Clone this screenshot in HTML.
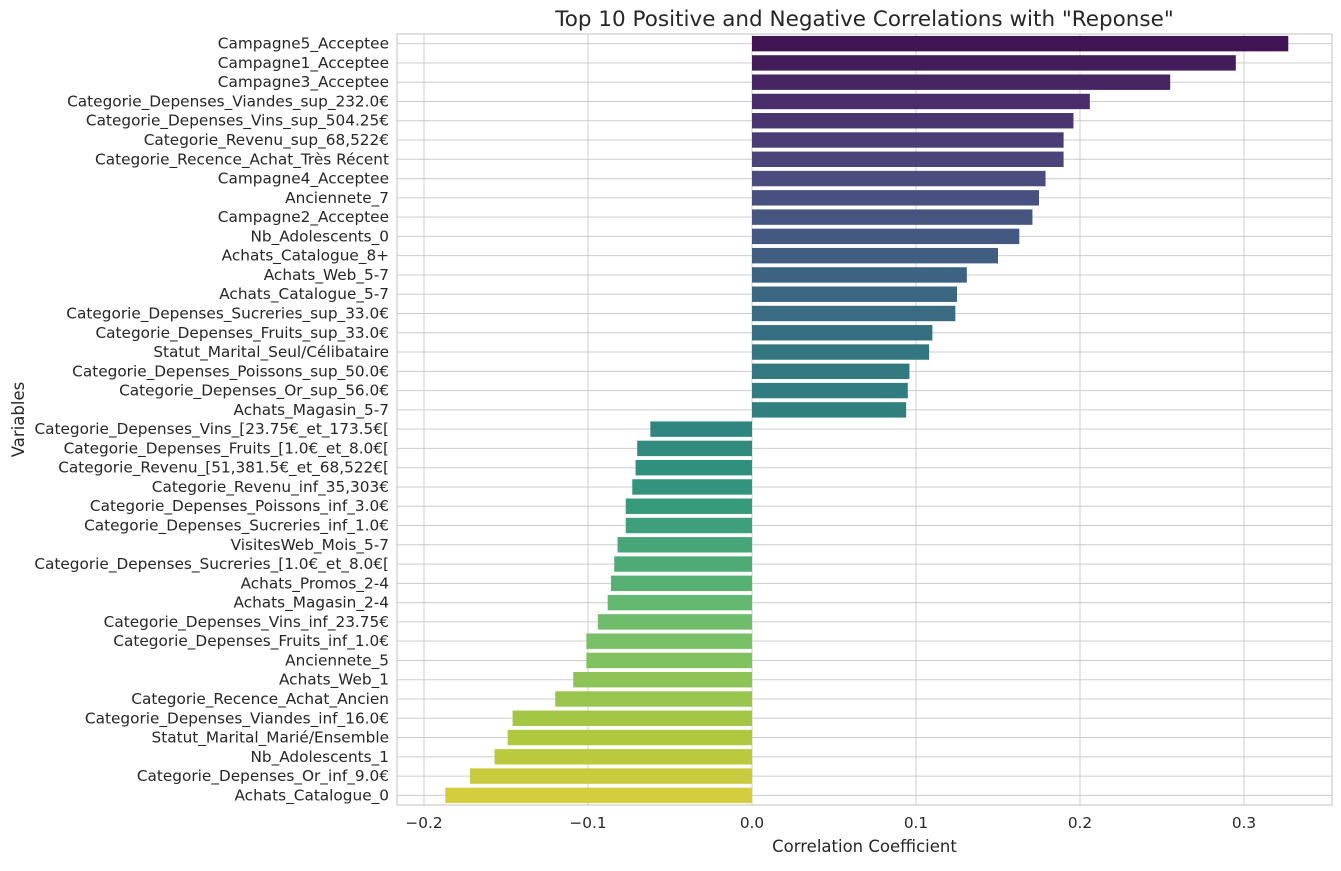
<!DOCTYPE html>
<html><head><meta charset="utf-8"><style>
body{margin:0;background:#fff;font-family:"Liberation Sans","DejaVu Sans",sans-serif;}
svg text{font-family:"DejaVu Sans","Liberation Sans",sans-serif;fill:#262626;}
</style></head><body>
<svg id="chart" width="1341" height="866"></svg>
<script>
const categories=["Campagne5_Acceptee","Campagne1_Acceptee","Campagne3_Acceptee","Categorie_Depenses_Viandes_sup_232.0€","Categorie_Depenses_Vins_sup_504.25€","Categorie_Revenu_sup_68,522€","Categorie_Recence_Achat_Très Récent","Campagne4_Acceptee","Anciennete_7","Campagne2_Acceptee","Nb_Adolescents_0","Achats_Catalogue_8+","Achats_Web_5-7","Achats_Catalogue_5-7","Categorie_Depenses_Sucreries_sup_33.0€","Categorie_Depenses_Fruits_sup_33.0€","Statut_Marital_Seul/Célibataire","Categorie_Depenses_Poissons_sup_50.0€","Categorie_Depenses_Or_sup_56.0€","Achats_Magasin_5-7","Categorie_Depenses_Vins_[23.75€_et_173.5€[","Categorie_Depenses_Fruits_[1.0€_et_8.0€[","Categorie_Revenu_[51,381.5€_et_68,522€[","Categorie_Revenu_inf_35,303€","Categorie_Depenses_Poissons_inf_3.0€","Categorie_Depenses_Sucreries_inf_1.0€","VisitesWeb_Mois_5-7","Categorie_Depenses_Sucreries_[1.0€_et_8.0€[","Achats_Promos_2-4","Achats_Magasin_2-4","Categorie_Depenses_Vins_inf_23.75€","Categorie_Depenses_Fruits_inf_1.0€","Anciennete_5","Achats_Web_1","Categorie_Recence_Achat_Ancien","Categorie_Depenses_Viandes_inf_16.0€","Statut_Marital_Marié/Ensemble","Nb_Adolescents_1","Categorie_Depenses_Or_inf_9.0€","Achats_Catalogue_0"];
const values=[0.327,0.295,0.255,0.206,0.196,0.190,0.190,0.179,0.175,0.171,0.163,0.150,0.131,0.125,0.124,0.110,0.108,0.096,0.095,0.094,-0.062,-0.070,-0.071,-0.073,-0.077,-0.077,-0.082,-0.084,-0.086,-0.088,-0.094,-0.101,-0.101,-0.109,-0.120,-0.146,-0.149,-0.157,-0.172,-0.187];
const xTicks=[-0.2,-0.1,0.0,0.1,0.2,0.3];
const xTickLabels=["−0.2","−0.1","0.0","0.1","0.2","0.3"];

const svg=document.getElementById('chart');
const NS='http://www.w3.org/2000/svg';
const L=397,R=1332,T=34,B=805;
const xScale=v=>752+v*1640;
const step=(B-T)/categories.length;
const yScale=i=>T+step*(i+0.5);
function mk(tag,attrs,parent){const e=document.createElementNS(NS,tag);for(const k in attrs)e.setAttribute(k,attrs[k]);(parent||svg).appendChild(e);return e;}
const stops=[[68,1,84],[72,36,117],[65,68,135],[53,95,141],[42,120,142],[33,145,140],[34,168,132],[68,191,112],[122,209,81],[189,223,38],[253,231,37]];
function desat(c,s){let [r,g,b]=c.map(x=>x/255);const mx=Math.max(r,g,b),mn=Math.min(r,g,b);const l=(mx+mn)/2;let h=0,sat=0;
 if(mx!==mn){const d=mx-mn;sat=l>0.5?d/(2-mx-mn):d/(mx+mn);
  if(mx===r)h=((g-b)/d+(g<b?6:0));else if(mx===g)h=(b-r)/d+2;else h=(r-g)/d+4;h/=6;}
 sat*=s;
 const q=l<0.5?l*(1+sat):l+sat-l*sat,p=2*l-q;
 const f=t=>{if(t<0)t+=1;if(t>1)t-=1;if(t<1/6)return p+(q-p)*6*t;if(t<1/2)return q;if(t<2/3)return p+(q-p)*(2/3-t)*6;return p;};
 return [f(h+1/3),f(h),f(h-1/3)].map(x=>Math.round(x*255));}
function viridis(t){const p=t*(stops.length-1);const i=Math.min(Math.floor(p),stops.length-2);const f=p-i;const c=stops[i].map((a,k)=>a+(stops[i+1][k]-a)*f);return `rgb(${desat(c,0.75)})`;}

const grid=mk('g',{});


xTicks.forEach(v=>mk('line',{x1:xScale(v),x2:xScale(v),y1:T,y2:B,stroke:'#cccccc','stroke-width':1},grid));
categories.forEach((c,i)=>mk('line',{x1:L,x2:R,y1:yScale(i),y2:yScale(i),stroke:'#cccccc','stroke-width':1},grid));

const n=categories.length;
categories.forEach((c,i)=>{
  const v=values[i];const x0=xScale(0),x1=xScale(v);
  const r=mk('rect',{x:Math.min(x0,x1),y:yScale(i)-step*0.4,width:Math.abs(x1-x0),height:step*0.8,fill:viridis((i+1)/(n+1))});
  
  
  const t=mk('text',{x:L-8,y:yScale(i)+5,'text-anchor':'end','font-size':15.3});
  t.textContent=c;
  
  
});
const fr=mk('rect',{x:L,y:T,width:R-L,height:B-T,fill:'none',stroke:'#cccccc','stroke-width':1.2});


xTicks.forEach((v,i)=>{const t=mk('text',{x:xScale(v),y:B+23,'text-anchor':'middle','font-size':15.3});t.textContent=xTickLabels[i];

});
const xt=mk('text',{x:(L+R)/2,y:852,'text-anchor':'middle','font-size':16.5});xt.textContent='Correlation Coefficient';


const yt=mk('text',{x:0,y:0,'text-anchor':'middle','font-size':16.5,transform:`translate(24,${(T+B)/2}) rotate(-90)`});yt.textContent='Variables';


const tt=mk('text',{x:(L+R)/2,y:26,'text-anchor':'middle','font-size':21.5});tt.textContent='Top 10 Positive and Negative Correlations with "Reponse"';


</script>
</body></html>
